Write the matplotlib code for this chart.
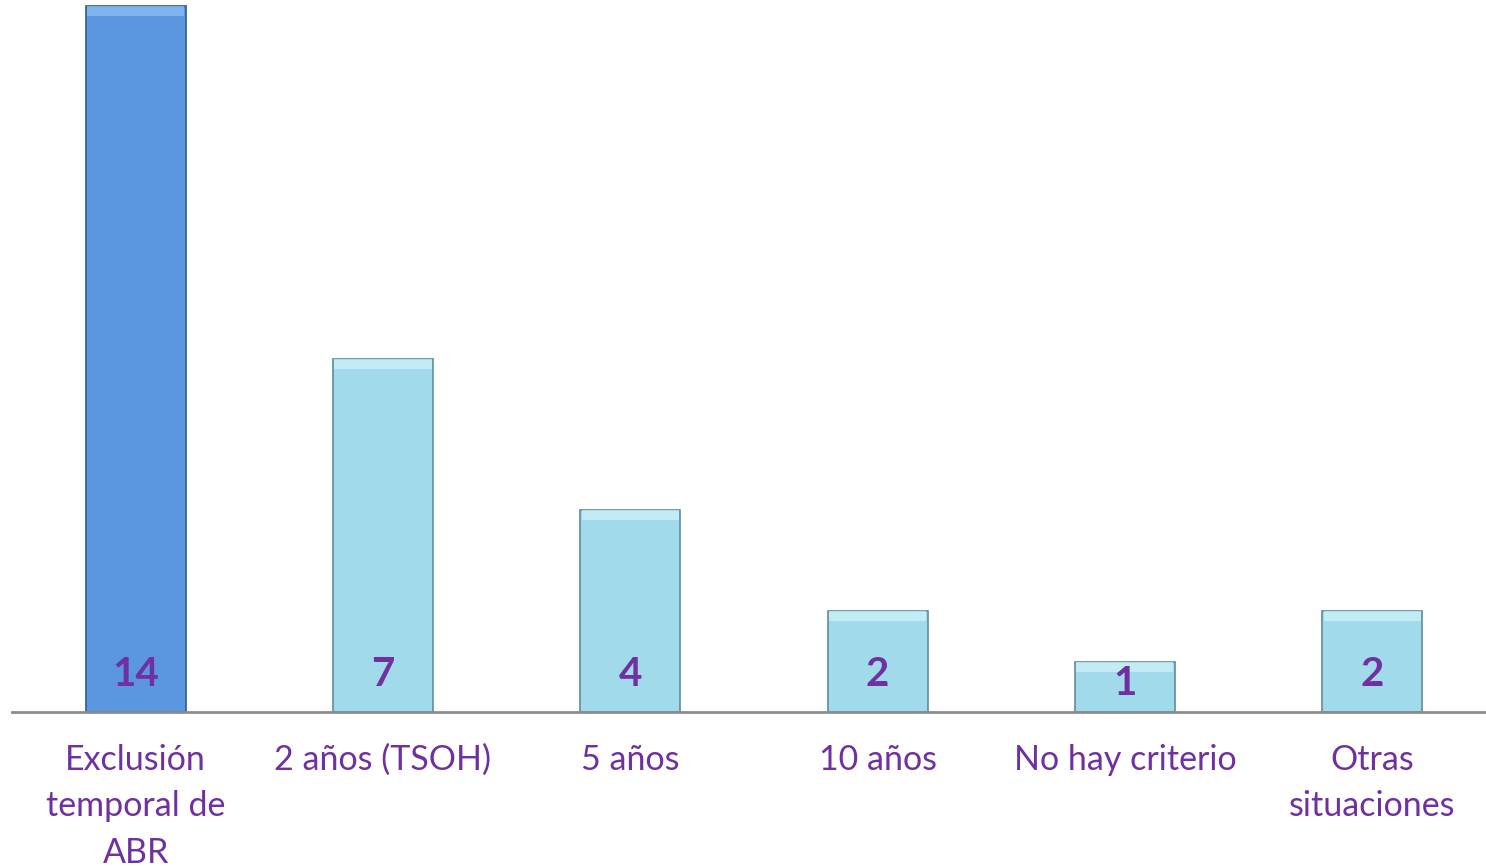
import numpy as np
import matplotlib.pyplot as plt

categorias = ["Exclusión\ntemporal de\nABR", "2 años (TSOH)", "5 años", "10 años",
              "No hay criterio", "Otras\nsituaciones"]
valores = [14, 7, 4, 2, 1, 2]
colores = ["#5B97E0", "#A1DAEA", "#A1DAEA", "#A1DAEA", "#A1DAEA", "#A1DAEA"]
bordes = ["#2F5A8F", "#5E8E9C", "#5E8E9C", "#5E8E9C", "#5E8E9C", "#5E8E9C"]
brillos = ["#8FC0F5", "#D2F3FA", "#D2F3FA", "#D2F3FA", "#D2F3FA", "#D2F3FA"]
morado = "#7030A0"

plt.rcParams['font.family'] = ['Lato', 'DejaVu Sans']

fig = plt.figure(figsize=(14.86, 8.67), dpi=100)
ax = fig.add_axes([12 / 1486, 1 - 712 / 867, 1 - 12 / 1486, (712 - 5) / 867])

x = np.arange(len(valores))
ancho = 0.405
ax.bar(x, valores, width=ancho, color=colores, edgecolor=bordes, linewidth=1.2, zorder=2)
# banda clara arriba (efecto bisel)
bisel = 0.2
ax.bar(x, bisel, bottom=np.array(valores) - bisel, width=ancho * 0.97,
       color=brillos, linewidth=0, alpha=0.7, zorder=3)

for xi, v in zip(x, valores):
    ax.text(xi, min(0.74, v - 0.44), str(v), ha='center', va='center',
            fontsize=29, fontweight='bold', color=morado, zorder=4)

ax.set_xlim(-0.5, 5.46)
ax.set_ylim(0, 14.02)
ax.set_xticks(x)
ax.set_xticklabels(categorias, fontsize=24.5, color=morado, linespacing=1.55)
ax.tick_params(axis='x', length=0, pad=23)
ax.set_yticks([])
for s in ['top', 'right', 'left']:
    ax.spines[s].set_visible(False)
ax.spines['bottom'].set_color('#8C8C8C')
ax.spines['bottom'].set_linewidth(2)
ax.spines['bottom'].set_zorder(5)

fig.savefig("out.png", dpi=100)
